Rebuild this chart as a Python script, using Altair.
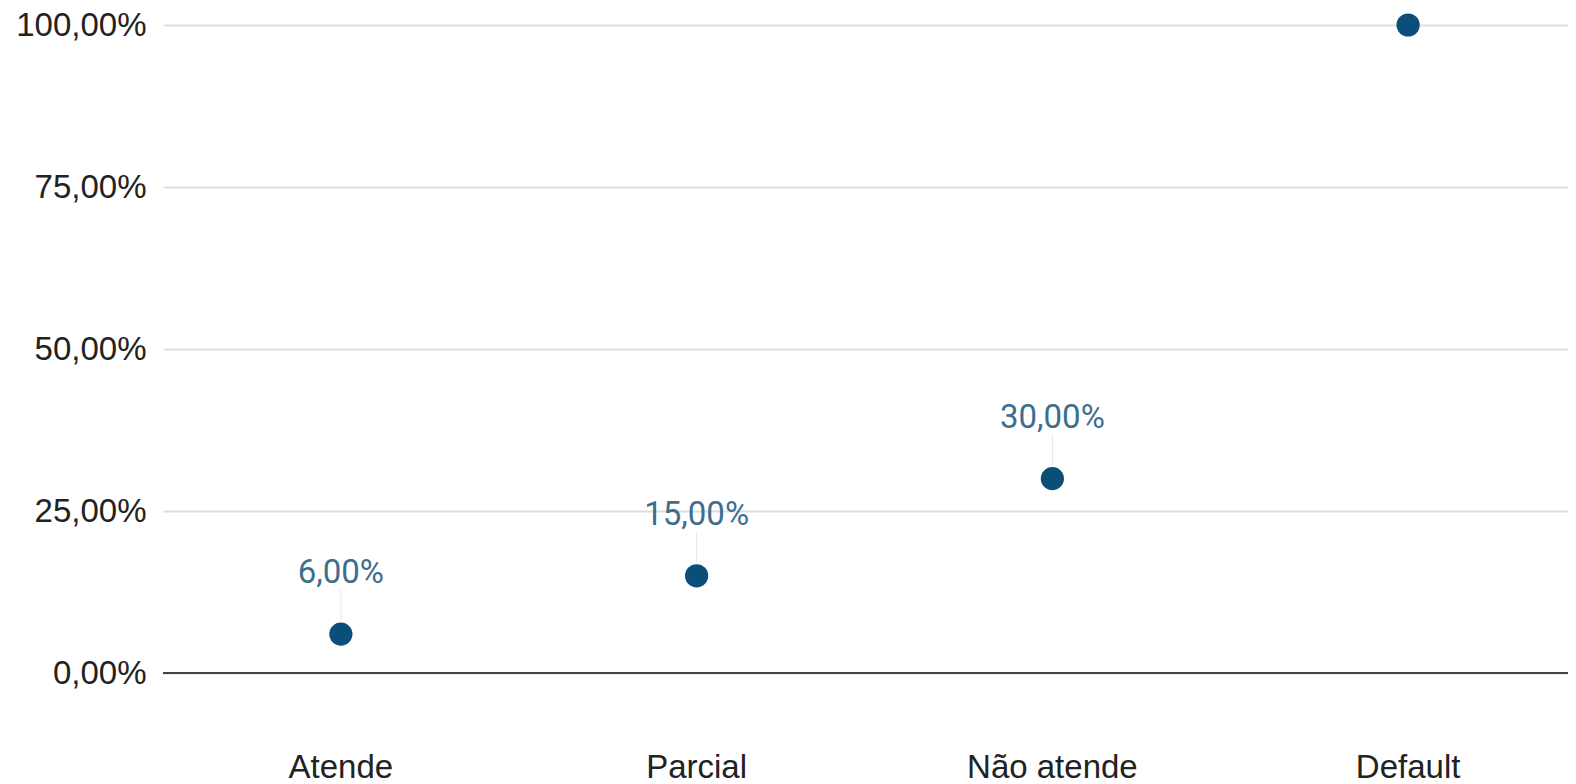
import altair as alt
import pandas as pd

categories = ["Atende", "Parcial", "Não atende", "Default"]
values = [0.06, 0.15, 0.30, 1.00]
y_ticks = [0, 0.25, 0.5, 0.75, 1.0]

df = pd.DataFrame({"cat": categories, "value": values})

fmt_expr = "replace(format(datum.value, '.2%'), '.', ',')"

x_enc = alt.X(
    "cat:N",
    sort=categories,
    scale=alt.Scale(range=[0, 1423], paddingInner=0, paddingOuter=0),
    axis=alt.Axis(
        title=None, labelAngle=0, ticks=False, domain=False, grid=False,
        labelFont="Liberation Sans", labelFontSize=33, labelColor="#222222",
        labelPadding=78,
    ),
)
y_enc = alt.Y(
    "value:Q",
    scale=alt.Scale(domain=[0, 1], nice=False),
    axis=alt.Axis(
        title=None, values=y_ticks, labelExpr=fmt_expr, ticks=False, domain=False,
        gridColor="#dddddd", gridWidth=2,
        labelFont="Liberation Sans", labelFontSize=33, labelColor="#222222",
        labelPadding=17,
    ),
)

base = alt.Chart(df)

labelled = base.transform_filter("datum.value < 1")

leaders = labelled.mark_rule(color="#e6e6e6", strokeWidth=1, yOffset=-14, y2Offset=-44).encode(
    x=x_enc, y=y_enc, y2="value:Q"
)

points = base.mark_circle(size=540, color="#0b4f79", opacity=1).encode(x=x_enc, y=y_enc)

labels = labelled.transform_calculate(lbl=fmt_expr).mark_text(
    font="Roboto", fontSize=33, color="#3d6e8e", baseline="alphabetic", dy=-51
).encode(x=x_enc, y=y_enc, text="lbl:N")

zero = alt.Chart(pd.DataFrame({"value": [0]})).mark_rule(color="#444444", strokeWidth=2).encode(
    y=y_enc
)

chart = alt.layer(leaders, points, labels, zero).properties(
    width=1405, height=648,
    background="white",
    autosize=alt.AutoSizeParams(type="none"),
    padding={"left": 155, "top": 17, "right": 0, "bottom": 111},
).configure_view(stroke="transparent", strokeWidth=0).configure_axis(domain=False)

chart.save("out.html", embed_options={"renderer": "svg", "actions": False})
